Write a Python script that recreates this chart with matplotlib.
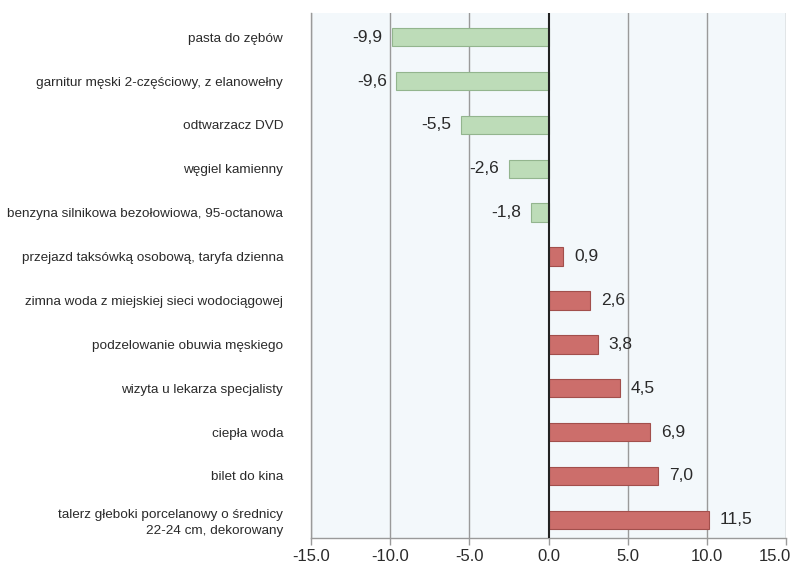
import numpy as np
import matplotlib.pyplot as plt
import matplotlib.transforms as mtransforms

# ==========================================================
# DATA
# ==========================================================

categories = [
    "pasta do zębów",
    "garnitur męski 2-częściowy, z elanowełny",
    "odtwarzacz DVD",
    "węgiel kamienny",
    "benzyna silnikowa bezołowiowa, 95-octanowa",
    "przejazd taksówką osobową, taryfa dzienna",
    "zimna woda z miejskiej sieci wodociągowej",
    "podzelowanie obuwia męskiego",
    "wizyta u lekarza specjalisty",
    "ciepła woda",
    "bilet do kina",
    "talerz głeboki porcelanowy o średnicy\n22-24 cm, dekorowany",
]

# bar lengths as drawn in the picture
bar_values = [-9.9, -9.6, -5.5, -2.5, -1.1, 0.9, 2.6, 3.1, 4.5, 6.4, 6.9, 10.1]

# value labels as printed next to the bars
value_labels = ["-9,9", "-9,6", "-5,5", "-2,6", "-1,8", "0,9",
                "2,6", "3,8", "4,5", "6,9", "7,0", "11,5"]

x_ticks = [-15, -10, -5, 0, 5, 10, 15]

# ==========================================================
# STYLE
# ==========================================================

plt.rcParams["font.family"] = ["Liberation Sans", "DejaVu Sans"]

green = "#bddcb8"
green_edge = "#93b58e"
red = "#cc6e6b"
red_edge = "#a24f4c"
text_color = "#2a2a2a"

# ==========================================================
# PLOT
# ==========================================================

fig = plt.figure(figsize=(7.95, 5.66), dpi=100)
ax = fig.add_axes([0.391, 0.049, 0.598, 0.928])
ax.set_facecolor("#f3f8fb")

y = np.arange(len(categories))
colors = [green if v < 0 else red for v in bar_values]
edges = [green_edge if v < 0 else red_edge for v in bar_values]

ax.barh(y, bar_values, height=0.42, color=colors,
        edgecolor=edges, linewidth=0.8, zorder=3)

for yi, v, lab in zip(y, bar_values, value_labels):
    if v < 0:
        ax.annotate(lab, (v, yi), xytext=(-7, 0), textcoords="offset points",
                    ha="right", va="center", fontsize=12.5, color=text_color,
                    zorder=4)
    else:
        ax.annotate(lab, (v, yi), xytext=(8, 0), textcoords="offset points",
                    ha="left", va="center", fontsize=12.5, color=text_color,
                    zorder=4)

# grid lines
for t in x_ticks:
    if t == 0:
        ax.axvline(0, color="#222222", linewidth=1.5, zorder=4)
    else:
        ax.axvline(t, color="#9a9a9a", linewidth=1.0, zorder=1)

ax.set_xlim(-15, 15)
ax.set_ylim(11.42, -0.55)

ax.set_xticks(x_ticks)
ax.set_xticklabels([f"{t:.1f}" for t in x_ticks], fontsize=12, color=text_color)
ax.tick_params(axis="x", length=5, width=1, color="#9a9a9a", pad=3)

# keep the last tick label inside the figure
last = ax.get_xticklabels()[-1]
last.set_transform(last.get_transform() +
                   mtransforms.ScaledTranslation(-8 / 72, 0, fig.dpi_scale_trans))

ax.set_yticks(y)
ax.set_yticklabels(categories, fontsize=9.7, color=text_color, linespacing=1.45)
ax.tick_params(axis="y", length=0, pad=20)

for side in ["top", "right"]:
    ax.spines[side].set_visible(False)
for side in ["left", "bottom"]:
    ax.spines[side].set_color("#9a9a9a")
    ax.spines[side].set_linewidth(1.0)

fig.savefig("out.png", dpi=100, facecolor="white")
